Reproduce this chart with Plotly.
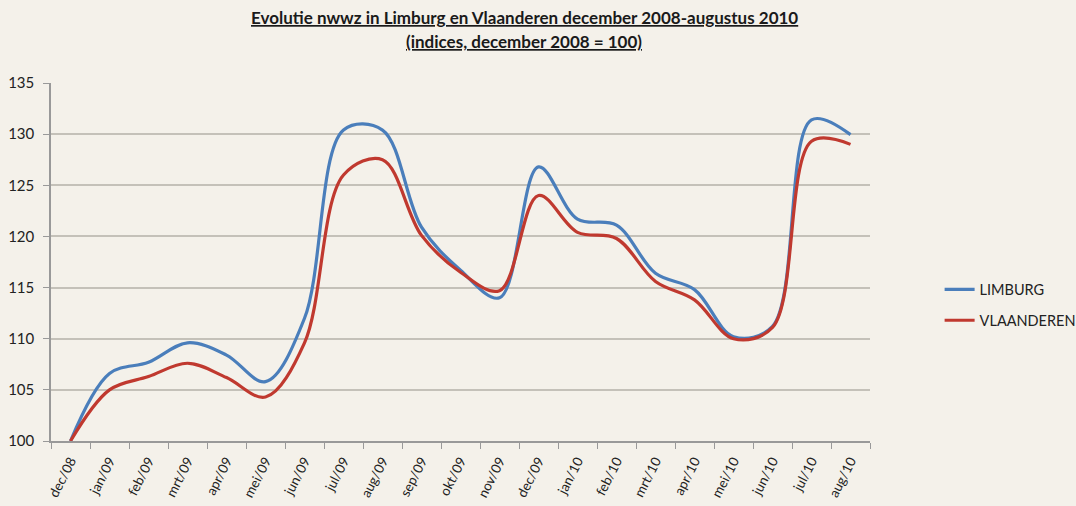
import plotly.graph_objects as go

months = ["dec/08", "jan/09", "feb/09", "mrt/09", "apr/09", "mei/09", "jun/09",
          "jul/09", "aug/09", "sep/09", "okt/09", "nov/09", "dec/09", "jan/10",
          "feb/10", "mrt/10", "apr/10", "mei/10", "jun/10", "jul/10", "aug/10"]

limburg = [100, 106.6, 107.7, 109.6, 108.4, 105.8, 112.0, 130.4, 130.4, 120.9,
           116.7, 114.0, 126.8, 121.7, 121.1, 116.4, 114.8, 110.2, 111.2, 131.4, 129.95]

vlaanderen = [100, 105.0, 106.3, 107.6, 106.2, 104.3, 109.6, 126.0, 127.5, 120.1,
              116.5, 114.7, 124.0, 120.4, 119.8, 115.6, 113.8, 110.0, 111.1, 129.3, 129.0]

y_ticks = [100, 105, 110, 115, 120, 125, 130, 135]

title_line1 = "Evolutie nwwz in Limburg en Vlaanderen december 2008-augustus 2010"
title_line2 = "(indices, december 2008 = 100)"

bg = "#F4F1EA"
font_family = "Lato, 'Open Sans', sans-serif"

W, H = 1076, 506
ML, MR, MT, MB = 51, 206, 83, 65
plot_h = H - MT - MB


def paper_y(px):
    return (H - MB - px) / plot_h


fig = go.Figure()
fig.add_trace(go.Scatter(x=months, y=limburg, name="LIMBURG", mode="lines",
                         line=dict(color="#4A7EBB", width=3.2, shape="spline", smoothing=1.0),
                         legendgroup="a"))
fig.add_trace(go.Scatter(x=months, y=vlaanderen, name="VLAANDEREN", mode="lines",
                         line=dict(color="#C0392F", width=3.2, shape="spline", smoothing=1.0),
                         legendgroup="b"))

for txt, ypx in [(title_line1, 18), (title_line2, 41)]:
    fig.add_annotation(text="<b><u>" + txt + "</u></b>", xref="paper", yref="paper",
                       x=(524 - ML) / (W - ML - MR), y=paper_y(ypx),
                       xanchor="center", yanchor="middle", showarrow=False,
                       font=dict(size=17, color="#1a1a1a", family=font_family))

fig.update_layout(
    width=W, height=H,
    paper_bgcolor=bg, plot_bgcolor=bg,
    margin=dict(l=ML, r=MR, t=MT, b=MB, autoexpand=False),
    font=dict(family=font_family, color="#222222", size=13),
    showlegend=True,
    legend=dict(x=1.085, xanchor="left", y=0.38, yanchor="middle",
                font=dict(size=14.5, color="#222222"),
                bgcolor="rgba(0,0,0,0)", tracegroupgap=9, itemwidth=30),
    xaxis=dict(
        type="category", categoryorder="array", categoryarray=months,
        tickson="boundaries", ticks="outside", ticklen=6, tickcolor="#999999",
        showline=True, linecolor="#999999", linewidth=1.5,
        showgrid=False, tickangle=-63, tickfont=dict(size=13.5, color="#222222"),
        ticklabelstandoff=5, automargin=False,
        range=[-0.5, 20.5],
    ),
    yaxis=dict(
        range=[100, 135], tickvals=y_ticks,
        ticks="outside", ticklen=6, tickcolor="#999999",
        showline=True, linecolor="#999999", linewidth=1.5,
        showgrid=True, gridcolor="#C4C1B9", gridwidth=1.5,
        tickfont=dict(size=15, color="#222222"), zeroline=False,
        ticklabelstandoff=6, automargin=False,
    ),
)

fig.write_html(
    "out.html",
    config={"displayModeBar": False},
    post_script="document.body.style.margin='0';document.body.style.background='%s';" % bg,
)
